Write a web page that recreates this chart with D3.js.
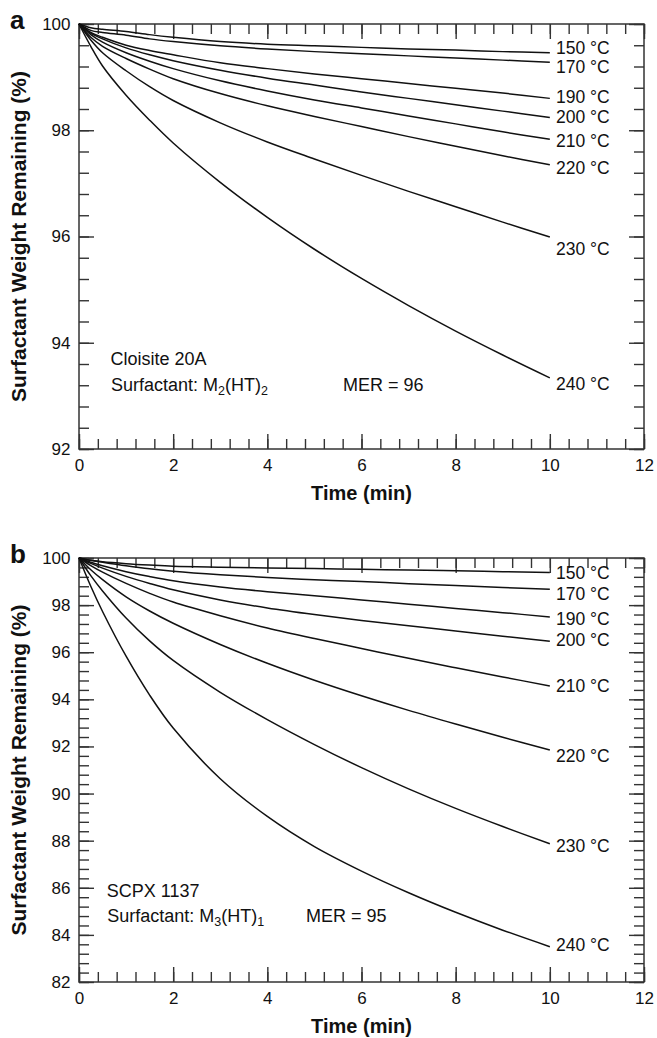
<!DOCTYPE html>
<html>
<head>
<meta charset="utf-8">
<script src="https://cdn.jsdelivr.net/npm/d3@7"></script>
<style>
  body { margin: 0; background: #fff; }
  svg { display: block; }
  text { font-family: "Liberation Sans", Arial, sans-serif; fill: #111; }
</style>
</head>
<body>
<div id="chart"></div>
<script>
// Sample times (min), shared by every curve
const times = [0, 0.25, 0.5, 1, 1.5, 2, 3, 4, 5, 6, 7, 8, 9, 10];
const tempLabels = ["150 °C", "170 °C", "190 °C", "200 °C", "210 °C", "220 °C", "230 °C", "240 °C"];

// Panel a: Cloisite 20A
const a150 = [100, 99.93, 99.90, 99.86, 99.80, 99.75, 99.67, 99.62, 99.59, 99.56, 99.53, 99.51, 99.48, 99.46];
const a170 = [100, 99.88, 99.84, 99.79, 99.72, 99.67, 99.59, 99.53, 99.48, 99.44, 99.40, 99.36, 99.32, 99.28];
const a190 = [100, 99.84, 99.75, 99.60, 99.50, 99.42, 99.27, 99.16, 99.06, 98.97, 98.88, 98.79, 98.70, 98.60];
const a200 = [100, 99.83, 99.72, 99.55, 99.42, 99.31, 99.13, 98.98, 98.85, 98.72, 98.60, 98.48, 98.36, 98.24];
const a210 = [100, 99.80, 99.66, 99.46, 99.30, 99.16, 98.93, 98.74, 98.57, 98.42, 98.27, 98.12, 97.97, 97.83];
const a220 = [100, 99.75, 99.58, 99.35, 99.15, 98.97, 98.69, 98.46, 98.26, 98.07, 97.88, 97.70, 97.52, 97.35];
const a230 = [100, 99.70, 99.46, 99.12, 98.82, 98.56, 98.14, 97.78, 97.46, 97.15, 96.85, 96.56, 96.27, 95.99];
const a240 = [100, 99.58, 99.21, 98.66, 98.19, 97.76, 97.02, 96.36, 95.76, 95.21, 94.70, 94.22, 93.77, 93.34];

// Panel b: SCPX 1137
const b150 = [100, 99.90, 99.84, 99.76, 99.70, 99.65, 99.61, 99.58, 99.55, 99.52, 99.49, 99.46, 99.42, 99.38];
const b170 = [100, 99.90, 99.82, 99.67, 99.54, 99.44, 99.29, 99.17, 99.08, 99.00, 98.91, 98.83, 98.75, 98.67];
const b190 = [100, 99.82, 99.67, 99.42, 99.21, 99.03, 98.77, 98.57, 98.40, 98.22, 98.04, 97.86, 97.68, 97.50];
const b200 = [100, 99.77, 99.57, 99.22, 98.92, 98.65, 98.22, 97.88, 97.60, 97.35, 97.12, 96.90, 96.68, 96.47];
const b210 = [100, 99.68, 99.40, 98.92, 98.50, 98.13, 97.55, 97.03, 96.58, 96.16, 95.74, 95.34, 94.95, 94.57];
const b220 = [100, 99.50, 99.08, 98.35, 97.75, 97.23, 96.33, 95.53, 94.81, 94.15, 93.53, 92.95, 92.39, 91.85];
const b230 = [100, 99.25, 98.60, 97.45, 96.48, 95.65, 94.30, 93.14, 92.08, 91.10, 90.20, 89.37, 88.60, 87.87];
const b240 = [100, 98.80, 97.73, 95.83, 94.18, 92.78, 90.63, 89.03, 87.75, 86.71, 85.79, 84.96, 84.20, 83.50];

// where the temperature labels sit (y in data units, at t = 10.13)
const aLabelY = [99.44, 99.08, 98.51, 98.13, 97.68, 97.18, 95.65, 93.11];
const bLabelY = [99.10, 98.22, 97.15, 96.25, 94.33, 91.32, 87.50, 83.30];

// ticks
const xTicks = [0, 2, 4, 6, 8, 10, 12];
const aYTicks = [92, 94, 96, 98, 100];
const bYTicks = [82, 84, 86, 88, 90, 92, 94, 96, 98, 100];

const W = 657, H = 1038;
const plotLeft = 79, plotRight = 644;

const svg = d3.select("#chart").append("svg")
  .attr("width", W)
  .attr("height", H);

function minorTicks(lo, hi) {
  const n = Math.round((hi - lo) / 0.4);
  return d3.range(n + 1).map(i => +(lo + i * 0.4).toFixed(2));
}

function styleTicks(g) {
  g.select(".domain").remove();
  g.selectAll(".tick line").attr("stroke", "#333").attr("stroke-width", 1.4);
}

function drawPanel(cfg) {
  const g = svg.append("g");
  const x = d3.scaleLinear().domain([0, 12]).range([plotLeft, plotRight]);
  const y = d3.scaleLinear().domain(cfg.yDomain).range([cfg.bottom, cfg.top]);

  const yMinor = minorTicks(cfg.yDomain[0], cfg.yDomain[1]);
  const xMinor = minorTicks(0, 12);

  // minor ticks, all four sides, pointing inwards
  g.append("g").attr("transform", `translate(${plotLeft},0)`)
    .call(d3.axisLeft(y).tickValues(yMinor).tickSize(-10).tickFormat(""))
    .call(styleTicks);
  g.append("g").attr("transform", `translate(${plotRight},0)`)
    .call(d3.axisRight(y).tickValues(yMinor).tickSize(-10).tickFormat(""))
    .call(styleTicks);
  g.append("g").attr("transform", `translate(0,${cfg.bottom})`)
    .call(d3.axisBottom(x).tickValues(xMinor).tickSize(-10).tickFormat(""))
    .call(styleTicks);
  g.append("g").attr("transform", `translate(0,${cfg.top})`)
    .call(d3.axisTop(x).tickValues(xMinor).tickSize(-10).tickFormat(""))
    .call(styleTicks);

  // major ticks
  const yAxis = g.append("g").attr("transform", `translate(${plotLeft},0)`)
    .call(d3.axisLeft(y).tickValues(cfg.yTicks).tickSize(-15).tickPadding(8.5).tickFormat(d3.format("d")))
    .call(styleTicks);
  g.append("g").attr("transform", `translate(${plotRight},0)`)
    .call(d3.axisRight(y).tickValues(cfg.yTicks).tickSize(-15).tickFormat(""))
    .call(styleTicks);
  const xAxis = g.append("g").attr("transform", `translate(0,${cfg.bottom})`)
    .call(d3.axisBottom(x).tickValues(xTicks).tickSize(-15).tickPadding(10).tickFormat(d3.format("d")))
    .call(styleTicks);
  g.append("g").attr("transform", `translate(0,${cfg.top})`)
    .call(d3.axisTop(x).tickValues(xTicks).tickSize(-15).tickFormat(""))
    .call(styleTicks);

  [yAxis, xAxis].forEach(ax => ax.selectAll("text")
    .attr("font-family", "Liberation Sans, Arial, sans-serif")
    .attr("font-size", 17)
    .attr("fill", "#111"));

  // frame
  g.append("rect")
    .attr("x", plotLeft).attr("y", cfg.top)
    .attr("width", plotRight - plotLeft).attr("height", cfg.bottom - cfg.top)
    .attr("fill", "none").attr("stroke", "#333").attr("stroke-width", 1.5);

  // curves
  const line = d3.line()
    .x(d => x(d[0]))
    .y(d => y(d[1]))
    .curve(d3.curveCatmullRom.alpha(0.5));

  cfg.series.forEach(vals => {
    g.append("path")
      .datum(times.map((t, i) => [t, vals[i]]))
      .attr("d", line)
      .attr("fill", "none")
      .attr("stroke", "#111")
      .attr("stroke-width", 1.5);
  });

  // temperature labels
  cfg.labelY.forEach((v, i) => {
    g.append("text")
      .attr("x", x(10.13))
      .attr("y", y(v))
      .attr("font-size", 17.5)
      .text(tempLabels[i]);
  });

  // axis titles
  g.append("text")
    .attr("x", (plotLeft + plotRight) / 2)
    .attr("y", cfg.bottom + 51)
    .attr("text-anchor", "middle")
    .attr("font-size", 20)
    .attr("font-weight", "bold")
    .text("Time (min)");

  g.append("text")
    .attr("transform", `translate(26,${(cfg.top + cfg.bottom) / 2}) rotate(-90)`)
    .attr("text-anchor", "middle")
    .attr("font-size", 21)
    .attr("font-weight", "bold")
    .text("Surfactant Weight Remaining (%)");

  // panel letter
  g.append("text")
    .attr("x", 10).attr("y", cfg.top + 5)
    .attr("font-size", 26)
    .attr("font-weight", "bold")
    .text(cfg.letter);

  // annotations
  const ann = cfg.notes;
  g.append("text").attr("x", ann.x).attr("y", ann.y1).attr("font-size", 18).text(ann.name);

  const s = g.append("text").attr("x", ann.x + 0.5).attr("y", ann.y2).attr("font-size", 18);
  s.append("tspan").text("Surfactant: M");
  s.append("tspan").attr("font-size", 12.5).attr("dy", 4).text(ann.sub1);
  s.append("tspan").attr("dy", -4).text("(HT)");
  s.append("tspan").attr("font-size", 12.5).attr("dy", 4).text(ann.sub2);

  g.append("text").attr("x", ann.merX).attr("y", ann.merY).attr("font-size", 18).text(ann.mer);
}

drawPanel({
  letter: "a",
  top: 24, bottom: 449,
  yDomain: [92, 100],
  yTicks: aYTicks,
  series: [a150, a170, a190, a200, a210, a220, a230, a240],
  labelY: aLabelY,
  notes: { x: 110.5, y1: 365, y2: 391, name: "Cloisite 20A", sub1: "2", sub2: "2",
           merX: 343, merY: 391, mer: "MER = 96" }
});

drawPanel({
  letter: "b",
  top: 558, bottom: 982,
  yDomain: [82, 100],
  yTicks: bYTicks,
  series: [b150, b170, b190, b200, b210, b220, b230, b240],
  labelY: bLabelY,
  notes: { x: 106.7, y1: 896.5, y2: 921.5, name: "SCPX 1137", sub1: "3", sub2: "1",
           merX: 306, merY: 922, mer: "MER = 95" }
});
</script>
</body>
</html>
